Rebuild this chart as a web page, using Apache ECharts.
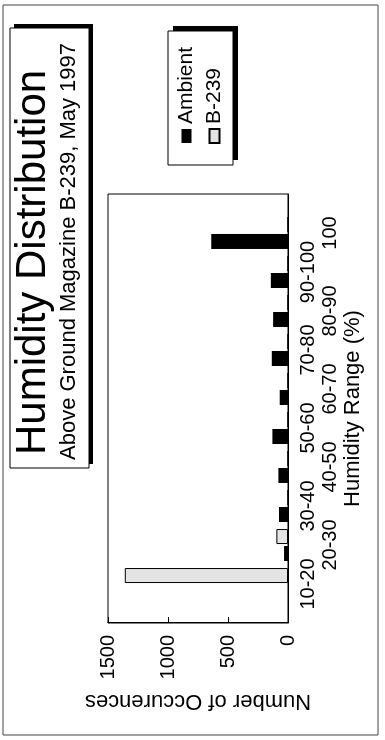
<!DOCTYPE html>
<html>
<head>
<meta charset="utf-8">
<script src="https://cdn.jsdelivr.net/npm/echarts@6/dist/echarts.min.js"></script>
<style>
  html, body { margin: 0; padding: 0; background: #fff; overflow: hidden; }
  /* the chart is printed sideways, so draw it landscape and turn it */
  #chart {
    position: absolute; left: 0; top: 0;
    width: 740px; height: 385px;
    transform-origin: 0 0;
    transform: translate(0, 740px) rotate(-90deg);
  }
</style>
</head>
<body>
<div id="chart"></div>
<script>
var categories = ['10-20', '20-30', '30-40', '40-50', '50-60', '60-70', '70-80', '80-90', '90-100', '100'];
var ambient = [0, 33, 75, 80, 130, 69, 135, 124, 143, 640];
var b239 = [1360, 97, 0, 0, 0, 0, 0, 0, 0, 0];
var yTicks = [0, 500, 1000, 1500];

var font = "'Liberation Sans', Arial, sans-serif";

// empty slot at each end so the bars sit half a step inside the frame
var axisCats = [''].concat(categories, ['']);
var pad = function (arr) { return [null].concat(arr, [null]); };

var chart = echarts.init(document.getElementById('chart'));

var option = {
  backgroundColor: '#fff',
  textStyle: { fontFamily: font, color: '#000' },
  animation: false,
  graphic: [
    // outer frame
    { type: 'rect', shape: { x: 5, y: 3, width: 730, height: 375 }, style: { fill: 'none', stroke: '#444', lineWidth: 1 }, z: 0 },
    // title box + shadow
    { type: 'rect', shape: { x: 276, y: 14, width: 440, height: 79 }, style: { fill: '#000' }, z: 1 },
    { type: 'rect', shape: { x: 272, y: 10, width: 440, height: 79 }, style: { fill: '#fff', stroke: '#000', lineWidth: 1 }, z: 2 },
    // legend box + shadow
    { type: 'rect', shape: { x: 580, y: 173, width: 134, height: 65 }, style: { fill: '#000' }, z: 1 },
    { type: 'rect', shape: { x: 575, y: 168, width: 134, height: 65 }, style: { fill: '#fff', stroke: '#000', lineWidth: 1 }, z: 2 }
  ],
  title: [
    {
      text: 'Humidity Distribution',
      left: 285, top: 12, padding: 0, z: 10,
      textStyle: { fontFamily: font, fontSize: 42, fontWeight: 'normal', color: '#000' }
    },
    {
      text: 'Above Ground Magazine B-239, May 1997',
      left: 280, top: 58, padding: 0, z: 10,
      textStyle: { fontFamily: font, fontSize: 22, fontWeight: 'normal', color: '#000' }
    }
  ],
  legend: {
    orient: 'vertical',
    left: 596, top: 176, padding: 0, z: 10,
    icon: 'rect',
    itemWidth: 14, itemHeight: 10, itemGap: 7,
    textStyle: { fontFamily: font, fontSize: 21, color: '#000' },
    data: ['Ambient', 'B-239']
  },
  grid: {
    left: 117, right: 194, top: 108, bottom: 97,
    show: true, borderColor: '#000', borderWidth: 1
  },
  xAxis: {
    type: 'category',
    data: axisCats,
    boundaryGap: false,
    name: 'Humidity Range (%)',
    nameLocation: 'middle',
    nameGap: 52,
    nameTextStyle: { fontFamily: font, fontSize: 22, color: '#000' },
    axisLine: { lineStyle: { color: '#000' } },
    axisTick: { show: false },
    axisLabel: {
      interval: 0,
      margin: 9,
      fontFamily: font, fontSize: 20, color: '#000', lineHeight: 22,
      formatter: function (v, i) {
        return i % 2 === 0 ? '\n' + v : v;   // staggered rows
      }
    }
  },
  yAxis: {
    type: 'value',
    min: yTicks[0],
    max: yTicks[yTicks.length - 1],
    interval: yTicks[1] - yTicks[0],
    name: 'Number of Occurences',
    nameLocation: 'middle',
    nameGap: 56,
    nameTextStyle: { fontFamily: font, fontSize: 22, color: '#000' },
    axisLine: { show: true, lineStyle: { color: '#000' } },
    axisTick: { show: true, inside: true, length: 6, lineStyle: { color: '#000' } },
    splitLine: { show: false },
    axisLabel: {
      margin: 12, fontFamily: font, fontSize: 20, color: '#000',
      formatter: function (v) { return String(v); }
    }
  },
  series: [
    {
      name: 'Ambient',
      type: 'bar',
      barWidth: 15,
      barGap: '13%',
      itemStyle: { color: '#000' },
      data: pad(ambient)
    },
    {
      name: 'B-239',
      type: 'bar',
      barWidth: 15,
      itemStyle: { color: '#e4e4e4', borderColor: '#000', borderWidth: 1 },
      data: pad(b239)
    }
  ]
};

chart.setOption(option);
</script>
</body>
</html>
